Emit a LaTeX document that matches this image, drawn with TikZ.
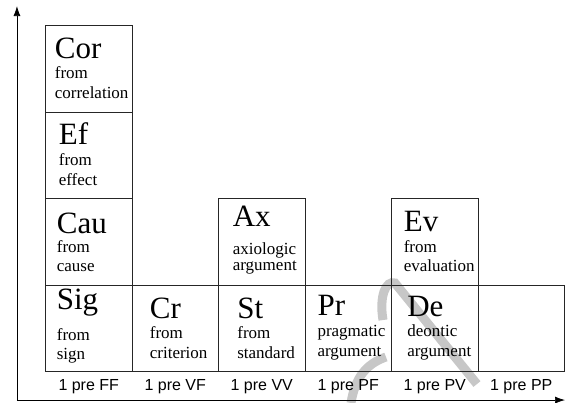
\documentclass[tikz,border=0pt]{standalone}
\usepackage{fontspec}
\setmainfont{Liberation Serif}
\setsansfont{Liberation Sans}
\usetikzlibrary{arrows.meta, positioning}

\tikzset{
    cell/.style={draw=black!85, line width=0.7pt, minimum size=86.5pt, inner sep=0pt},
    bigname/.style={anchor=base west, inner sep=0pt, font=\fontsize{31}{31}\selectfont},
    small/.style={anchor=base west, inner sep=0pt, font=\fontsize{17}{20}\selectfont},
    tag/.style={anchor=base, inner sep=0pt, font=\sffamily\fontsize{16}{16}\selectfont},
    axis/.style={line width=0.7pt, -{Latex[length=10pt,width=7pt]}},
    wmark/.style={draw=black!22, line width=9pt}
}

\begin{document}
\begin{tikzpicture}[x=86.5pt, y=86.5pt]
    \useasboundingbox (-0.526,-0.364) rectangle (6.006,4.295);

    % Watermark stroke behind the table
    \draw[wmark] (3.902,0.595) .. controls (3.855,0.873) and (3.936,1.058) .. (4.040,1.023) -- (4.988,-0.145);
    \draw[wmark] (3.532,-0.364) .. controls (3.578,-0.075) and (3.705,0.087) .. (3.936,0.168);

    % Axes
    \coordinate (o) at (-0.33,-0.33);
    \coordinate (ytop) at (-0.33,4.225);
    \coordinate (xend) at (6.006,-0.33);
    \draw[axis] (o) -- (ytop);
    \draw[axis] (o) -- (xend);

    % Boxes with their texts
    \foreach \nm/\cx/\cy/\dx/\bl/\gp/\gq/\ab/\lia/\lib in {
        cor/0.5/3.5/9.5/33.3/20/20/Cor/from/correlation,
        ef/0.5/2.5/13.5/32.7/20.7/20.3/Ef/from/effect,
        cau/0.5/1.5/11.5/35.2/19.5/18.5/Cau/from/cause,
        sig/0.5/0.5/11.5/25/30.7/19.3/Sig/from/sign,
        cr/1.5/0.5/18/34/20/20/Cr/from/criterion,
        st/2.5/0.5/19/34/20/20/St/from/standard,
        ax/2.5/1.5/14.5/28/28.5/15.5/Ax/axiologic/argument,
        pr/3.5/0.5/12.7/31/21/20/Pr/pragmatic/argument,
        de/4.5/0.5/16/31.7/20.3/19.7/De/deontic/argument,
        ev/4.5/1.5/12.5/33.2/21/19/Ev/from/evaluation} {
        \node[cell] (\nm) at (\cx,\cy) {};
        \node[bigname] (\nm-t) at ([xshift=\dx pt, yshift=-\bl pt]\nm.north west) {\ab};
        \node[small] (\nm-a) at ([yshift=-\gp pt]\nm-t.base west) {\lia};
        \node[small] (\nm-b) at ([yshift=-\gq pt]\nm-a.base west) {\lib};
    }
    \node[cell] (pp) at (5.5,0.5) {};

    % Column labels
    \foreach \i/\name in {1/FF, 2/VF, 3/VV, 4/PF, 5/PV, 6/PP} {
        \node[tag] (l\i) at (\i-0.5,-0.225) {1 pre \name};
    }
\end{tikzpicture}
\end{document}
